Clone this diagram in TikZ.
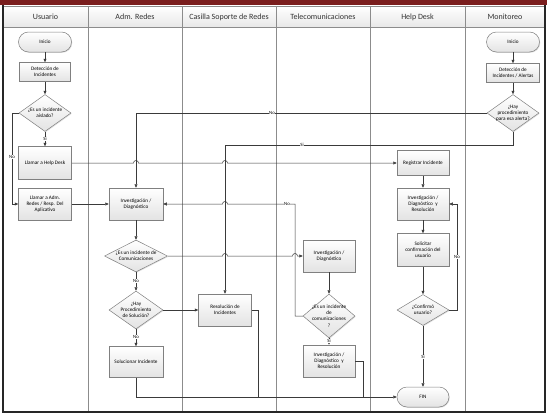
\documentclass[tikz,border=0pt]{standalone}
\usepackage{fontspec}
\setmainfont{Carlito}
\usetikzlibrary{arrows.meta,shapes.geometric,shadows}
\definecolor{framered}{HTML}{7A1E1E}
\definecolor{laneline}{HTML}{8C8C8C}
\definecolor{boxline}{HTML}{808080}
\definecolor{connline}{HTML}{3A3A3A}

\tikzset{
  box/.style={draw=boxline, line width=0.5pt, top color=white, bottom color=black!11,
    drop shadow={shadow xshift=0.8pt,shadow yshift=-0.8pt,opacity=0.25},
    font=\fontsize{5.2}{6.2}\selectfont, align=center, inner sep=1pt},
  procbox/.style={box, minimum width=52pt, minimum height=32pt},
  termbox/.style={box, rounded corners=10pt, minimum width=53pt, minimum height=20pt},
  decbox/.style={box, diamond, inner sep=0pt, minimum width=52pt, minimum height=37pt},
  dectext/.style={label={[font=\fontsize{5.2}{6.2}\selectfont, align=center]center:{#1}}},
  conn/.style={draw=connline, line width=0.5pt, -{Triangle[length=3.5pt,width=3pt]}},
  link/.style={draw=connline, line width=0.5pt},
  tag/.style={font=\fontsize{4.8}{5.5}\selectfont, fill=white, inner sep=0.6pt},
  lanehead/.style={font=\fontsize{8}{9}\selectfont, text=black!80},
}

\begin{document}
\begin{tikzpicture}[x=1pt,y=-1pt]
\useasboundingbox (0,0) rectangle (547,415);

% lanes and header
\foreach \xa/\xb/\lane [count=\i] in {3/88/Usuario, 88/182/Adm. Redes, 182/276/Casilla Soporte de Redes,
    276/370/Telecomunicaciones, 370/465/Help Desk, 465/545/Monitoreo}{
  \draw[laneline, top color=white, bottom color=black!9] (\xa,6) rectangle (\xb,27);
  \node[lanehead] (head\i) at ({(\xa+\xb)/2},17) {\lane};
  \draw[laneline] (\xb,27) -- (\xb,412);
}
\fill[framered] (0,0) rectangle (547,4.5);
\draw[line width=1.4pt, black!85] (3,5) -- (3,412) -- (545,412) -- (545,5);

% Usuario
\node[termbox] (iniU) at (45,42) {Inicio};
\node[procbox, minimum width=51pt, minimum height=19pt] (detU) at (45,72) {Detección de\\Incidentes};
\node[decbox, dectext={¿Es un incidente\\aislado?}] (aislado) at (45,113) {};
\node[procbox, minimum width=53pt, minimum height=33pt] (llamarHD) at (45,163) {Llamar a Help Desk};
\node[procbox, minimum width=53pt] (llamarAdm) at (45,204) {Llamar a Adm.\\Redes / Resp. Del\\Aplicativo};

% Adm. Redes
\node[procbox, minimum width=54pt] (invAdm) at (136,204) {Investigación /\\Diagnóstico};
\node[decbox, minimum width=63pt, minimum height=32pt, dectext={¿Es un incidente de\\Comunicaciones}] (esCom) at (136,256) {};
\node[decbox, minimum width=54pt, minimum height=38pt, dectext={¿Hay\\Procedimiento\\de Solución?}] (hayProc) at (136,310) {};
\node[procbox, minimum width=54pt, minimum height=31pt] (soluc) at (136,362) {Solucionar Incidente};

% Casilla Soporte de Redes
\node[procbox, minimum width=53pt] (resol) at (225,310) {Resolución de\\Incidentes};

% Telecomunicaciones
\node[procbox] (invTel) at (329,256) {Investigación /\\Diagnóstico};
\node[decbox, minimum height=44pt, dectext={¿Es un incidente\\de\\comunicaciones\\?}] (esComTel) at (329,316) {};
\node[procbox] (invTelRes) at (329,361) {Investigación /\\Diagnóstico~~y\\Resolución};

% Help Desk
\node[procbox, minimum height=25pt] (registrar) at (423,163) {Registrar Incidente};
\node[procbox] (invHD) at (423,204) {Investigación /\\Diagnóstico~~y\\Resolución};
\node[procbox, minimum height=33pt] (solic) at (423,250) {Solicitar\\confirmación del\\usuario};
\node[decbox, minimum height=31pt, dectext={¿Confirmó\\usuario?}] (confirmo) at (423,310) {};
\node[termbox, minimum width=52pt] (fin) at (423,397) {FIN};

% Monitoreo
\node[termbox] (iniM) at (513,42) {Inicio};
\node[procbox, minimum width=53pt, minimum height=19pt] (detM) at (513,73) {Detección de\\Incidentes / Alertas};
\node[decbox, dectext={¿Hay\\procedimiento\\para esa alerta?}] (hayAlerta) at (513,113) {};

% connectors
\draw[conn] (iniU) -- (detU);
\draw[conn] (detU) -- (aislado);
\draw[conn] (aislado.south) -- (llamarHD.north);
\draw[conn] (aislado.west) -- (12,113) -- (12,204) -- (llamarAdm.west);
\draw[conn] (llamarAdm.east) -- (invAdm.west);
\draw[conn] (llamarHD.east) -- (133.5,163) arc[start angle=180,end angle=360,radius=2.5]
  -- (222.5,163) arc[start angle=180,end angle=360,radius=2.5] -- (registrar.west);

\draw[conn] (iniM) -- (detM);
\draw[conn] (detM) -- (hayAlerta);
\draw[conn] (hayAlerta.west) -- (136,113) -- (invAdm.north);
\draw[conn] (hayAlerta.south) -- (513,145) -- (225,145) -- (resol.north);

\draw[conn] (invAdm) -- (esCom);
\draw[conn] (esCom.south) -- (hayProc.north);
\draw[conn] (esCom.east) -- (222.5,256) arc[start angle=180,end angle=360,radius=2.5]
  -- (292.5,256) arc[start angle=180,end angle=360,radius=2.5] -- (invTel.west);
\draw[conn] (hayProc.south) -- (soluc.north);
\draw[conn] (hayProc.east) -- (resol.west);

\draw[conn] (invTel) -- (esComTel);
\draw[conn] (esComTel.south) -- (invTelRes.north);
\draw[conn] (esComTel.west) -- (295,316) -- (295,204)
  -- (227.5,204) arc[start angle=0,end angle=-180,radius=2.5] -- (invAdm.east);

\draw[conn] (registrar) -- (invHD);
\draw[conn] (invHD) -- (solic);
\draw[conn] (solic) -- (confirmo);
\draw[conn] (confirmo.east) -- (457,310) -- (457,204) -- (invHD.east);
\draw[conn] (confirmo.south) -- (fin.north);

\draw[conn] (soluc.south) -- (136,397) -- (fin.west);
\draw[link] (resol.east) -- (258,310) -- (258,397);
\draw[link] (invTelRes.east) -- (363,361) -- (363,397);

% branch labels
\node[tag] (siA) at (45,139) {Si};
\node[tag] (noA) at (12,157) {No};
\node[tag] (noM) at (272,113) {No};
\node[tag] (siM) at (302,145) {Si};
\node[tag] (noC) at (136,281) {No};
\node[tag] (noP) at (136,337) {No};
\node[tag] (noT) at (287,204) {No};
\node[tag] (siT) at (329,341) {Si};
\node[tag] (noH) at (457,257) {No};
\node[tag] (siH) at (423,357) {Si};
\end{tikzpicture}
\end{document}
